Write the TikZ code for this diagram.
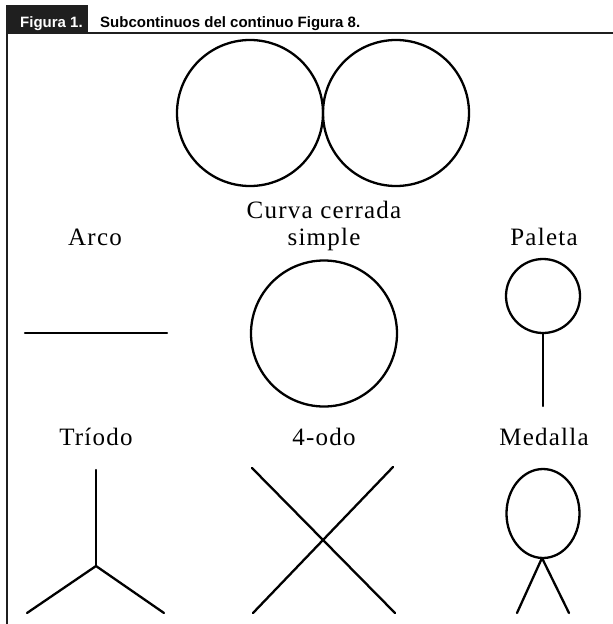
\documentclass[tikz,border=0pt]{standalone}
\usepackage{fontspec}
\setmainfont{Liberation Serif}[LetterSpace=5]
\newfontfamily\headfont{Liberation Sans}
\tikzset{
  trazo/.style={line width=2.3pt, line cap=round},
  marco/.style={line width=2.4pt, draw=black!88},
  etiqueta/.style={font=\fontsize{25}{28}\selectfont, anchor=base, inner sep=0pt},
  cabecera/.style={font=\headfont\bfseries\fontsize{15}{18}\selectfont, anchor=base west, inner sep=0pt}
}
\begin{document}
\begin{tikzpicture}[x=1pt,y=-1pt]
        \useasboundingbox (0,0) rectangle (613,624);
        % marco y titulo
        \fill[black!88] (6,5) rectangle (88,34);
        \draw[marco] (7,5) -- (7,624);
        \draw[marco] (88,33) -- (613,33);
        \node[cabecera, text=white] (numero) at (20,27) {Figura 1.};
        \node[cabecera] (titulo) at (100,27) {Subcontinuos del continuo Figura 8.};
        % figura 8
        \draw[trazo] (250,113) circle[radius=73pt];
        \draw[trazo] (396,113) circle[radius=73pt];
        % fila 2
        \node[etiqueta] (arco) at (95,245) {Arco};
        \node[etiqueta] (curva) at (324,218) {Curva cerrada};
        \node[etiqueta] (simple) at (324,245) {simple};
        \node[etiqueta] (paleta) at (544,245) {Paleta};
            \coordinate (a1) at (25,333);
            \coordinate (a2) at (167,333);
            \draw[trazo] (a1) -- (a2);
            \draw[trazo] (324,333.5) circle[radius=73pt];
            \draw[trazo] (543,296) circle[radius=37pt];
            \coordinate (p1) at (543,333);
            \coordinate (p2) at (543,406);
            \draw[trazo] (p1) -- (p2);
        % fila 3
        \node[etiqueta] (triodo) at (96,445) {Tríodo};
        \node[etiqueta] (cuatro) at (324,445) {4-odo};
        \node[etiqueta] (medalla) at (544,445) {Medalla};
            \coordinate (t0) at (96,566);
            \draw[trazo] (t0) -- (96,470);
            \draw[trazo] (t0) -- (27,613);
            \draw[trazo] (t0) -- (164,613);
            \draw[trazo] (252,468) -- (395,613);
            \draw[trazo] (393,467) -- (253,613);
            \draw[trazo] (543,513.5) ellipse[x radius=36.5pt, y radius=44.5pt];
            \coordinate (m0) at (542,558);
            \draw[trazo] (m0) -- (517,613);
            \draw[trazo] (m0) -- (569,613);
\end{tikzpicture}
\end{document}
